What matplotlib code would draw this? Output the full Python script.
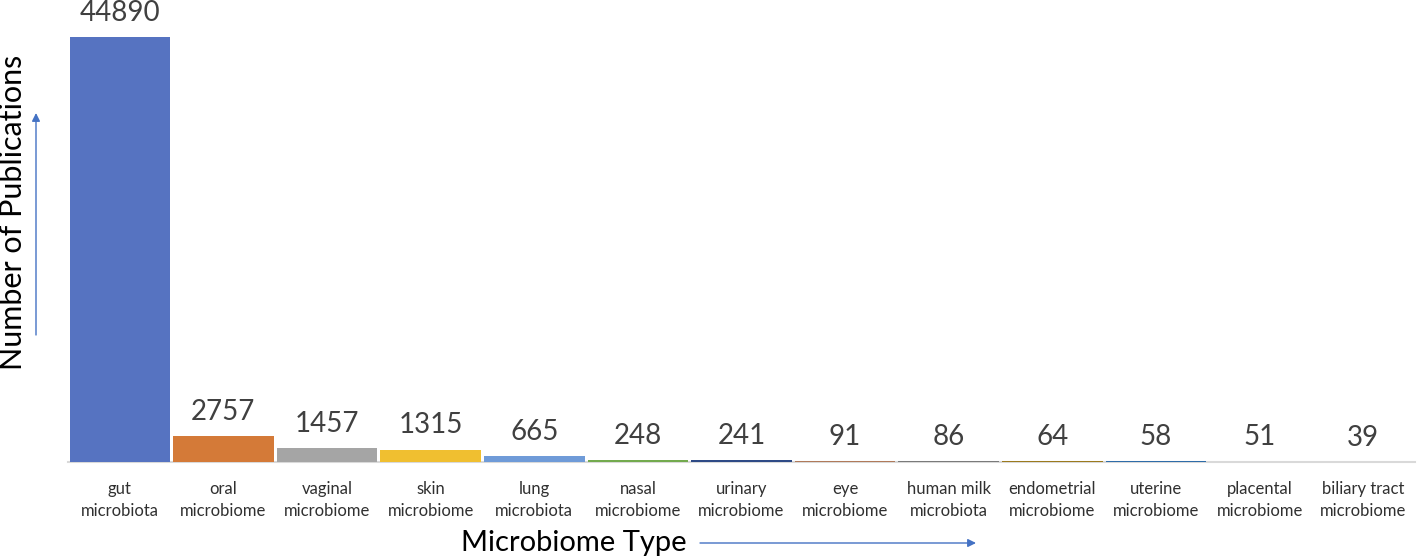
import matplotlib.pyplot as plt

# data
categories = ['gut\nmicrobiota', 'oral\nmicrobiome', 'vaginal\nmicrobiome', 'skin\nmicrobiome',
              'lung\nmicrobiota', 'nasal\nmicrobiome', 'urinary\nmicrobiome', 'eye\nmicrobiome',
              'human milk\nmicrobiota', 'endometrial\nmicrobiome', 'uterine\nmicrobiome',
              'placental\nmicrobiome', 'biliary tract\nmicrobiome']
publications = [44890, 2757, 1457, 1315, 665, 248, 241, 91, 86, 64, 58, 51, 39]
bar_colors = ['#5673C1', '#D47A38', '#A5A5A5', '#F0BF30', '#6F9BD8', '#73AA4E', '#2E4A86',
              '#B07A5A', '#7A7A7A', '#9B7A1E', '#2E6CA8', '#4D7F30', '#7D8AB8']

plt.rcParams['font.family'] = ['Lato', 'DejaVu Sans']

W, H = 1417, 559
fig = plt.figure(figsize=(W / 100, H / 100), dpi=100)
ax = fig.add_axes([68 / W, 1 - 462 / H, (1415 - 68) / W, (462 - 37) / H])

x = range(len(categories))
bars = ax.bar(x, publications, width=0.97, color=bar_colors, zorder=2)
ax.set_xlim(-0.5, len(categories) - 0.5)
ax.set_ylim(0, max(publications))

for b, v in zip(bars, publications):
    ax.annotate(str(v), (b.get_x() + b.get_width() / 2, v), xytext=(0, 8),
                textcoords='offset points', ha='center', va='bottom',
                fontsize=20, color='#404040', annotation_clip=False)

ax.set_xticks(list(x))
ax.set_xticklabels(categories, fontsize=12, color='#303030', linespacing=1.45)
ax.tick_params(axis='x', length=0, pad=14)
ax.set_yticks([])
for s in ['top', 'right', 'left']:
    ax.spines[s].set_visible(False)
ax.spines['bottom'].set_color('#D9D9D9')
ax.spines['bottom'].set_linewidth(1.5)
ax.spines['bottom'].set_zorder(1)

# axis titles with arrows
fig.text(13 / W, 1 - 212 / H, 'Number of Publications', rotation=90, ha='center', va='center',
         fontsize=22, color='black')
fig.text(574 / W, 1 - 543 / H, 'Microbiome Type', ha='center', va='center',
         fontsize=21, color='black')

arrow = dict(arrowstyle='-|>', color='#4472C4', lw=1, mutation_scale=12, shrinkA=0, shrinkB=0)
fig.add_artist(plt.Annotation('', xy=(36 / W, 1 - 113 / H), xytext=(36 / W, 1 - 335 / H),
                              xycoords='figure fraction', arrowprops=arrow))
fig.add_artist(plt.Annotation('', xy=(976 / W, 1 - 543 / H), xytext=(700 / W, 1 - 543 / H),
                              xycoords='figure fraction', arrowprops=arrow))

fig.savefig('out.png', dpi=100)
